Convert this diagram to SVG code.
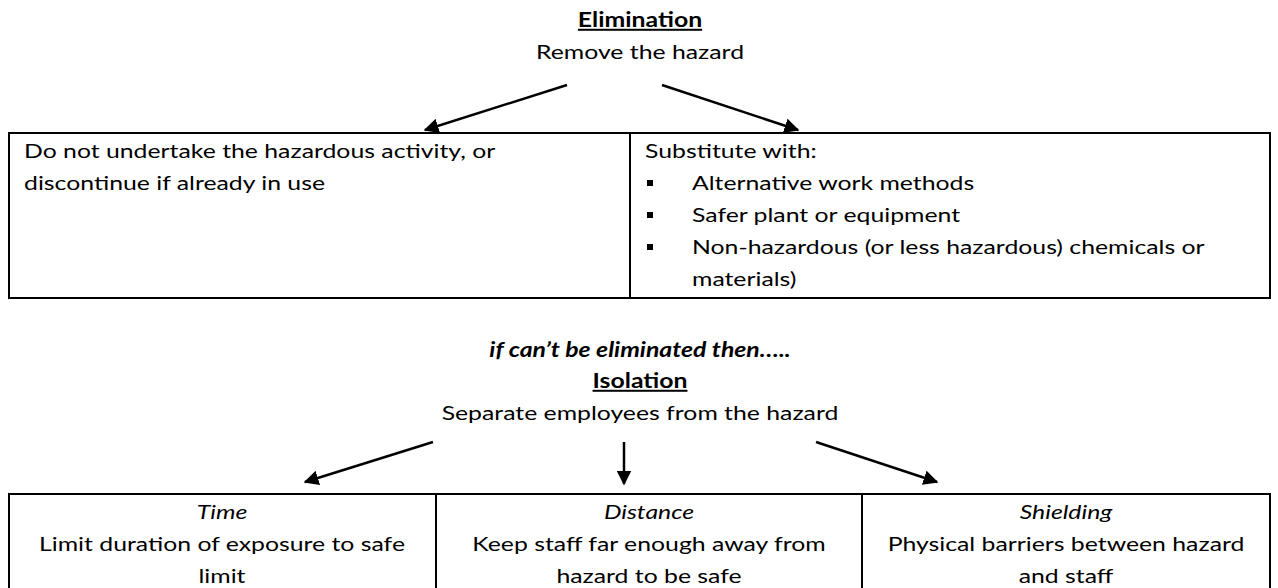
<svg xmlns="http://www.w3.org/2000/svg" width="1278" height="588" viewBox="0 0 1278 588">
<style>
text{font-family:Lato,"Open Sans","Liberation Sans",sans-serif;font-size:20px;fill:#000}
.c{text-anchor:middle}
.b{font-weight:bold}
.i{font-style:italic}
.u{text-decoration:underline}
.box{fill:none;stroke:#000;stroke-width:2}
.conn line{stroke:#000;stroke-width:2.5}
</style>
<defs>
<marker id="ah" viewBox="0 0 10 10" refX="9" refY="5" markerWidth="6" markerHeight="6" markerUnits="strokeWidth" orient="auto">
<path d="M0,0 L10,5 L0,10 z" fill="#000"/>
</marker>
</defs>
<rect width="1278" height="588" fill="#fff"/>
<g id="elimination">
<text class="c b u" transform="translate(640 27) scale(1.24 1)">Elimination</text>
<text class="c" transform="translate(640 59) scale(1.24 1)">Remove the hazard</text>
</g>
<g id="elim-table">
<rect class="box" x="9" y="133" width="1261" height="165"/>
<line class="box" x1="630" y1="133" x2="630" y2="298"/>
</g>
<g id="do-not">
<text transform="translate(24 158) scale(1.24 1)">Do not undertake the hazardous activity, or</text>
<text transform="translate(24 190) scale(1.24 1)">discontinue if already in use</text>
</g>
<g id="substitute">
<text transform="translate(645 158) scale(1.24 1)">Substitute with:</text>
<rect x="647" y="180" width="6" height="6"/>
<text transform="translate(692 190) scale(1.24 1)">Alternative work methods</text>
<rect x="647" y="212" width="6" height="6"/>
<text transform="translate(692 222) scale(1.24 1)">Safer plant or equipment</text>
<rect x="647" y="244" width="6" height="6"/>
<text transform="translate(692 254) scale(1.24 1)">Non-hazardous (or less hazardous) chemicals or</text>
<text transform="translate(692 286) scale(1.24 1)">materials)</text>
</g>
<g id="isolation">
<text class="c b i" transform="translate(640 357) scale(1.24 1)">if can’t be eliminated then…..</text>
<text class="c b u" transform="translate(640 388) scale(1.24 1)">Isolation</text>
<text class="c" transform="translate(640 420) scale(1.24 1)">Separate employees from the hazard</text>
</g>
<g id="iso-table">
<rect class="box" x="9" y="494" width="1261" height="110"/>
<line class="box" x1="436" y1="494" x2="436" y2="588"/>
<line class="box" x1="862" y1="494" x2="862" y2="588"/>
</g>
<g id="time">
<text class="c i" transform="translate(222 519) scale(1.24 1)">Time</text>
<text class="c" transform="translate(222 551) scale(1.24 1)">Limit duration of exposure to safe</text>
<text class="c" transform="translate(222 583) scale(1.24 1)">limit</text>
</g>
<g id="distance">
<text class="c i" transform="translate(649 519) scale(1.24 1)">Distance</text>
<text class="c" transform="translate(649 551) scale(1.24 1)">Keep staff far enough away from</text>
<text class="c" transform="translate(649 583) scale(1.24 1)">hazard to be safe</text>
</g>
<g id="shielding">
<text class="c i" transform="translate(1066 519) scale(1.24 1)">Shielding</text>
<text class="c" transform="translate(1066 551) scale(1.24 1)">Physical barriers between hazard</text>
<text class="c" transform="translate(1066 583) scale(1.24 1)">and staff</text>
</g>
<g id="connectors" class="conn">
<line x1="567" y1="85" x2="425" y2="130" marker-end="url(#ah)"/>
<line x1="662" y1="85" x2="798" y2="130" marker-end="url(#ah)"/>
<line x1="433" y1="442" x2="305" y2="482" marker-end="url(#ah)"/>
<line x1="624" y1="442" x2="624" y2="484" marker-end="url(#ah)"/>
<line x1="816" y1="442" x2="937" y2="482" marker-end="url(#ah)"/>
</g>
</svg>
